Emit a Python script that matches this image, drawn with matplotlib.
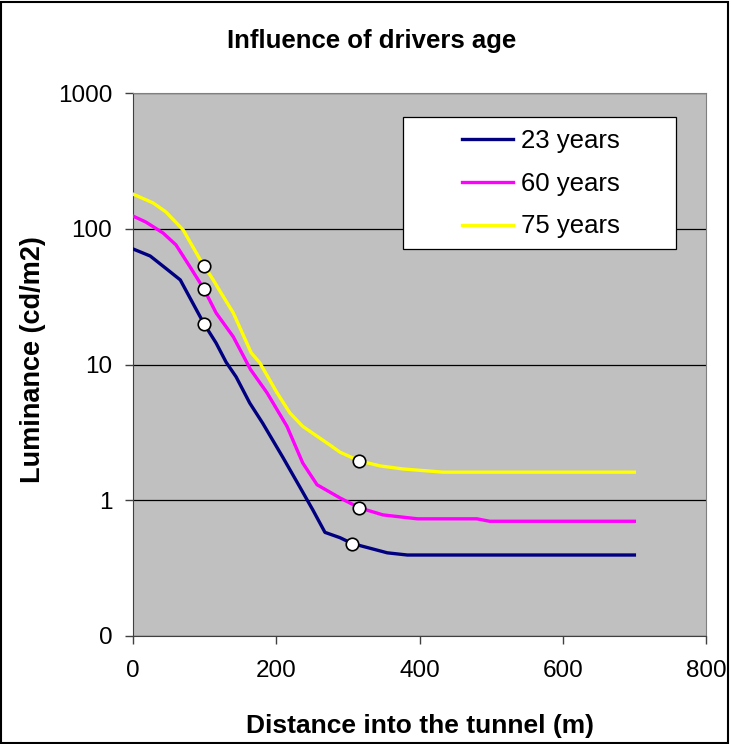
import numpy as np
import matplotlib
matplotlib.use("Agg")
import matplotlib.pyplot as plt
from matplotlib.patches import Rectangle
from matplotlib.ticker import FixedLocator, FixedFormatter, NullLocator

plt.rcParams['font.family'] = ['Liberation Sans', 'DejaVu Sans']

# data (distance in m, luminance in cd/m2)
x_23 = [0, 24, 46, 66, 84, 99, 116, 130, 144, 163, 181, 209, 233, 251, 268, 289, 306, 355, 383, 700]
y_23 = [71, 63, 51, 42, 28, 20, 14.4, 10.4, 8.1, 5.2, 3.7, 2.08, 1.25, 0.85, 0.58, 0.53, 0.48, 0.41, 0.395, 0.395]

x_60 = [0, 18, 42, 60, 80, 99, 116, 140, 164, 187, 215, 237, 257, 289, 316, 349, 397, 480, 498, 700]
y_60 = [124, 112, 93, 76, 52, 36, 24, 16, 9.2, 6.2, 3.5, 1.88, 1.3, 1.04, 0.88, 0.78, 0.73, 0.73, 0.70, 0.70]

x_75 = [0, 28, 46, 70, 94, 112, 121, 140, 165, 177, 201, 219, 237, 275, 289, 316, 345, 377, 433, 700]
y_75 = [180, 155, 133, 98, 59, 42, 35, 24, 12.2, 10.3, 6.2, 4.4, 3.5, 2.55, 2.26, 1.95, 1.79, 1.70, 1.61, 1.61]

# marked points
mark_x = [99, 99, 99, 306, 316, 316]
mark_y = [20, 36, 53, 0.48, 0.88, 1.95]

series = [("23 years", x_23, y_23, "#000080"),
          ("60 years", x_60, y_60, "#ff00ff"),
          ("75 years", x_75, y_75, "#ffff00")]

W, H = 731, 744
fig = plt.figure(figsize=(W/100, H/100), dpi=100)
ax = fig.add_axes([133/W, 1 - 636/H, (706-133)/W, (636-93)/H])
ax.set_facecolor("#c0c0c0")

for label, xs, ys, col in series:
    ax.plot(xs, ys, color=col, linewidth=2.4, label=label, zorder=3)

ax.plot(mark_x, mark_y, linestyle="none", marker="o", markersize=9,
        markerfacecolor="white", markeredgecolor="black", markeredgewidth=1.2, zorder=4)

ax.set_yscale("log")
ax.set_ylim(0.1, 1000)
ax.set_xlim(0, 800)
ax.yaxis.set_major_locator(FixedLocator([0.1, 1, 10, 100, 1000]))
ax.yaxis.set_major_formatter(FixedFormatter(["0", "1", "10", "100", "1000"]))
ax.yaxis.set_minor_locator(NullLocator())
ax.set_xticks([0, 200, 400, 600, 800])

ax.grid(axis="y", color="black", linewidth=0.9, zorder=1)
ax.set_axisbelow(True)

ax.tick_params(axis="both", direction="out", length=6, width=1, labelsize=17.5, color="#404040")
ax.tick_params(axis="x", pad=11)
ax.tick_params(axis="y", pad=9)
for s in ["top", "right"]:
    ax.spines[s].set_color("#808080")
for s in ["left", "bottom"]:
    ax.spines[s].set_color("#404040")

# titles
fig.text(372/W, 1 - 48/H, "Influence of drivers age", fontsize=18.5, fontweight="bold",
         ha="center", va="baseline")
fig.text(420/W, 1 - 733/H, "Distance into the tunnel (m)", fontsize=19, fontweight="bold",
         ha="center", va="baseline")
fig.text(33/W, 1 - 360/H, "Luminance (cd/m2)", fontsize=19.5, fontweight="bold",
         ha="center", va="center", rotation=90)

# legend box, entries placed inside it
box = Rectangle((403/W, 1 - 249/H), (676-403)/W, (249-117)/H, transform=fig.transFigure,
                facecolor="white", edgecolor="black", linewidth=0.9, zorder=5, clip_on=False)
ax.add_artist(box)
leg = ax.legend(loc="upper left", bbox_to_anchor=(444/W, 1 - 111/H),
                bbox_transform=fig.transFigure, fontsize=18.5, frameon=False,
                handlelength=2.0, labelspacing=0.73, handletextpad=0.3, borderpad=0.2)
leg.set_zorder(6)

fig.patches.append(Rectangle((0.002, 0.002), 0.994, 0.995, transform=fig.transFigure,
                             fill=False, edgecolor="black", linewidth=1.5))

fig.savefig("out.png", dpi=100)
